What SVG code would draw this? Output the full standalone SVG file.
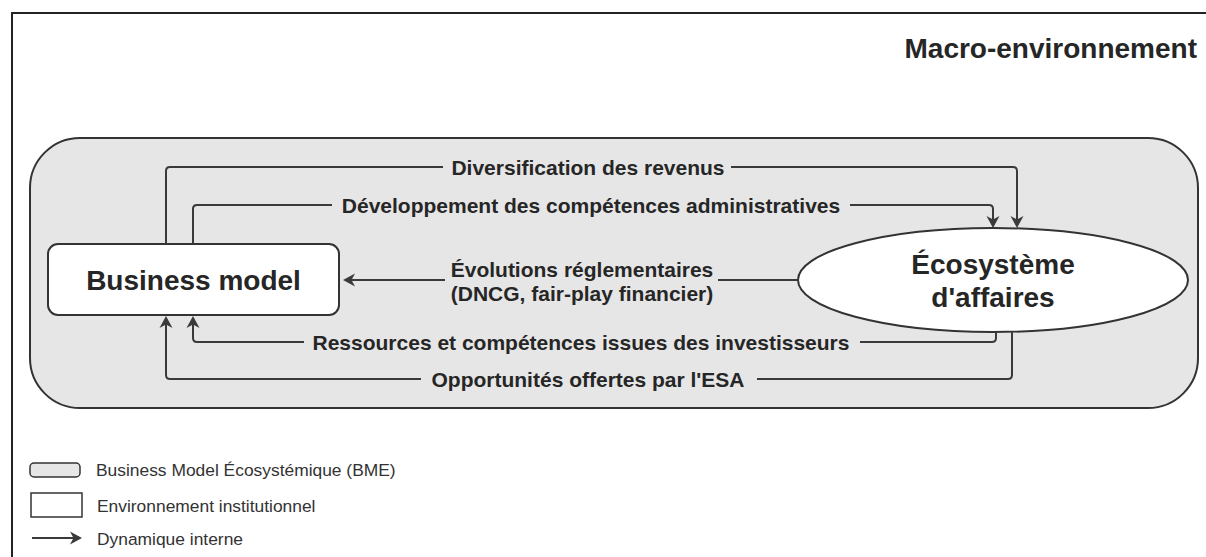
<svg xmlns="http://www.w3.org/2000/svg" width="1206" height="557" viewBox="0 0 1206 557">
<style>
.lbl{font-family:"Liberation Sans",Arial,sans-serif;font-weight:bold;font-size:21px;fill:#262626;text-anchor:middle}
.node{font-family:"Liberation Sans",Arial,sans-serif;font-weight:bold;font-size:28px;fill:#262626;text-anchor:middle}
.leg{font-family:"Liberation Sans",Arial,sans-serif;font-size:17.4px;fill:#333}
.conn{fill:none;stroke:#3a3a3a;stroke-width:2}
</style>
<defs>
<marker id="ah" markerUnits="userSpaceOnUse" markerWidth="14" markerHeight="14" refX="8" refY="6.5" orient="auto" overflow="visible">
<path d="M0,0 L12,6.5 L0,13 L3.5,6.5 Z" fill="#3a3a3a"/>
</marker>
</defs>
<rect width="1206" height="557" fill="#fff"/>
<g id="frame">
<path d="M12,557 V13 H1206" fill="none" stroke="#222" stroke-width="2"/>
<text x="1197" y="58" font-family="Liberation Sans, Arial, sans-serif" font-weight="bold" font-size="28" fill="#262626" text-anchor="end">Macro-environnement</text>
</g>
<g id="bme">
<rect x="30" y="138" width="1168" height="270" rx="50" fill="#e6e6e6" stroke="#333" stroke-width="2"/>
</g>
<g id="business-model">
<rect x="48" y="244" width="291" height="71" rx="10" fill="#fff" stroke="#333" stroke-width="2"/>
<text class="node" x="193.5" y="290">Business model</text>
</g>
<g id="ecosysteme">
<ellipse cx="993" cy="280" rx="195" ry="52" fill="#fff" stroke="#333" stroke-width="2"/>
<text class="node" x="993" y="274">Écosystème</text>
<text class="node" x="993" y="307">d'affaires</text>
</g>
<g id="connectors">
<path class="conn" d="M166,244 V171 Q166,167 170,167 H443 M731,167 H1013 Q1017,167 1017,171 V224" marker-end="url(#ah)"/>
<text class="lbl" x="588" y="175">Diversification des revenus</text>
<path class="conn" d="M193,244 V209 Q193,205 197,205 H332 M850,205 H989 Q993,205 993,209 V224" marker-end="url(#ah)"/>
<text class="lbl" x="591" y="213">Développement des compétences administratives</text>
<path class="conn" d="M798,280 H718 M445,280 H347" marker-end="url(#ah)"/>
<text class="lbl" x="582" y="277">Évolutions réglementaires</text>
<text class="lbl" x="582" y="301">(DNCG, fair-play financier)</text>
<path class="conn" d="M996,332 V338 Q996,342 992,342 H860 M304,342 H197 Q193,342 193,338 V320" marker-end="url(#ah)"/>
<text class="lbl" x="581" y="350">Ressources et compétences issues des investisseurs</text>
<path class="conn" d="M1012,331 V375 Q1012,379 1008,379 H757 M421,379 H170 Q166,379 166,375 V320" marker-end="url(#ah)"/>
<text class="lbl" x="588" y="387">Opportunités offertes par l'ESA</text>
</g>
<g id="legend">
<rect x="30" y="463" width="50" height="14" rx="4" fill="#e6e6e6" stroke="#333" stroke-width="1.5"/>
<text class="leg" x="96" y="476">Business Model Écosystémique (BME)</text>
<rect x="31" y="493" width="51" height="24" fill="#fff" stroke="#333" stroke-width="1.5"/>
<text class="leg" x="97" y="512">Environnement institutionnel</text>
<path class="conn" d="M32,538 H78" marker-end="url(#ah)"/>
<text class="leg" x="97" y="545">Dynamique interne</text>
</g>
</svg>
